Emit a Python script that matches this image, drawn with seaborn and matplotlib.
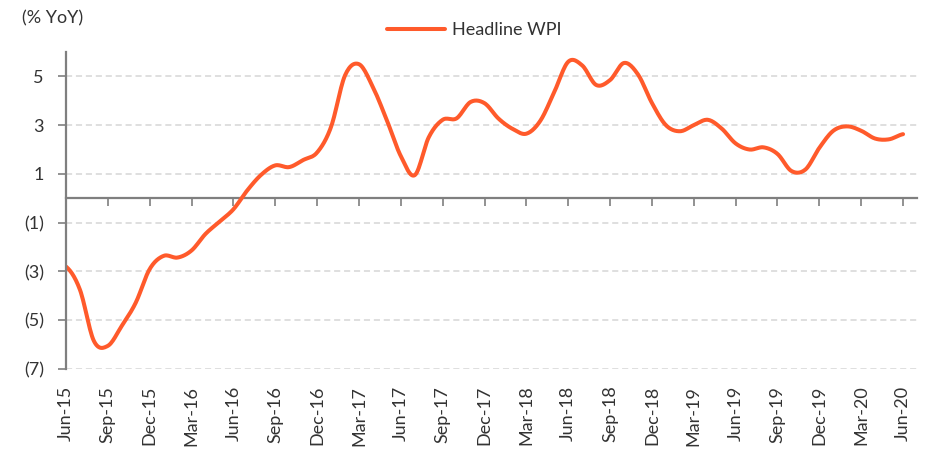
import numpy as np
import pandas as pd
import matplotlib
matplotlib.use("Agg")
import matplotlib.pyplot as plt
import seaborn as sns

# ---- data -------------------------------------------------------------
months = pd.date_range("2015-06-01", "2020-06-01", freq="MS")
month_labels = [d.strftime("%b-%y") for d in months]
wpi_yoy = [
    -2.80, -3.75, -5.85, -6.05, -5.23, -4.28, -2.90, -2.36, -2.43, -2.14,
    -1.46, -0.96, -0.45, 0.33, 0.97, 1.35, 1.28, 1.57, 1.88, 2.93,
    5.04, 5.50, 4.56, 3.20, 1.73, 0.95, 2.50, 3.22, 3.28, 3.95,
    3.90, 3.27, 2.85, 2.65, 3.18, 4.36, 5.60, 5.45, 4.65, 4.85,
    5.55, 5.08, 3.91, 3.00, 2.75, 3.00, 3.22, 2.86, 2.25, 2.00,
    2.09, 1.82, 1.12, 1.18, 2.07, 2.77, 2.95, 2.77, 2.45, 2.42,
    2.63,
]
series_name = "Headline WPI"
y_ticks = [5, 3, 1, -1, -3, -5, -7]
y_tick_labels = ["5", "3", "1", "(1)", "(3)", "(5)", "(7)"]
x_tick_step = 3

# ---- helpers ----------------------------------------------------------
def smooth_curve(x, y, n=14):
    """Catmull-Rom rendering of a smoothed line through the data points."""
    x = np.asarray(x, float)
    y = np.asarray(y, float)
    px = np.concatenate([[2 * x[0] - x[1]], x, [2 * x[-1] - x[-2]]])
    py = np.concatenate([[y[0]], y, [y[-1]]])
    t = np.linspace(0, 1, n, endpoint=False)
    xs, ys = [], []
    for i in range(1, len(px) - 2):
        for arr, out in ((px, xs), (py, ys)):
            p0, p1, p2, p3 = arr[i - 1], arr[i], arr[i + 1], arr[i + 2]
            out.append(0.5 * ((2 * p1) + (-p0 + p2) * t
                              + (2 * p0 - 5 * p1 + 4 * p2 - p3) * t ** 2
                              + (-p0 + 3 * p1 - 3 * p2 + p3) * t ** 3))
    xs.append([x[-1]])
    ys.append([y[-1]])
    return np.concatenate(xs), np.concatenate(ys)

# ---- style ------------------------------------------------------------
sns.set_theme(style="white")
plt.rcParams["font.family"] = ["Lato", "DejaVu Sans"]
text_color = "#333333"
axis_gray = "#7f7f7f"
line_color = "#FF5A2B"
fs = 13

fig = plt.figure(figsize=(9.35, 4.51), dpi=100)
ax = fig.add_axes([66 / 935, 1 - 369 / 451, (917 - 66) / 935, (369 - 52) / 451])

pos = np.arange(len(wpi_yoy))
sx, sy = smooth_curve(pos, wpi_yoy)
df = pd.DataFrame({"x": sx, "y": sy, "series": series_name})
sns.lineplot(data=df, x="x", y="y", hue="series", palette=[line_color],
             sort=False, estimator=None, linewidth=2.9, ax=ax,
             solid_capstyle="round", legend=True)

ax.set_xlim(0, len(wpi_yoy))
ax.set_ylim(-7, 6)

# y axis
ax.set_yticks(y_ticks)
ax.set_yticklabels(y_tick_labels)
ax.yaxis.grid(True, color="#d6d6d6", linestyle=(0, (4, 2.5)), linewidth=1.1)
ax.xaxis.grid(False)
ax.tick_params(axis="y", left=True, length=6, width=1.2, color=axis_gray,
               pad=10, labelsize=fs, labelcolor=text_color)

# x axis labels at the bottom
tick_pos = pos[::x_tick_step]
ax.set_xticks(tick_pos)
ax.set_xticklabels(month_labels[::x_tick_step], rotation=90)
ax.tick_params(axis="x", bottom=False, length=0, pad=12, labelsize=fs,
               labelcolor=text_color)

for s in ["top", "right", "bottom"]:
    ax.spines[s].set_visible(False)
ax.spines["left"].set_color(axis_gray)
ax.spines["left"].set_linewidth(1.6)

# zero line with tick marks
zero_frac = (0 - (-7)) / (6 - (-7))
sec = ax.secondary_xaxis(zero_frac)
sec.set_alignment("bottom")
sec.set_xticks(tick_pos)
sec.set_xticklabels([])
sec.spines["bottom"].set_color(axis_gray)
sec.spines["bottom"].set_linewidth(1.6)
sec.tick_params(axis="x", direction="out", length=6, width=1.2, color=axis_gray)

ax.set_xlabel("")
ax.set_ylabel("")

# legend
handles, labels = ax.get_legend_handles_labels()
ax.get_legend().remove()
fig.legend(handles, labels, loc="center", bbox_to_anchor=(474 / 935, 1 - 30 / 451),
           frameon=False, fontsize=fs, handlelength=3.2, handletextpad=0.4,
           labelcolor=text_color)

fig.text(22 / 935, 1 - 18 / 451, "(% YoY)", ha="left", va="center",
         fontsize=fs, color=text_color)

fig.savefig("out.png", dpi=100, facecolor="white")
